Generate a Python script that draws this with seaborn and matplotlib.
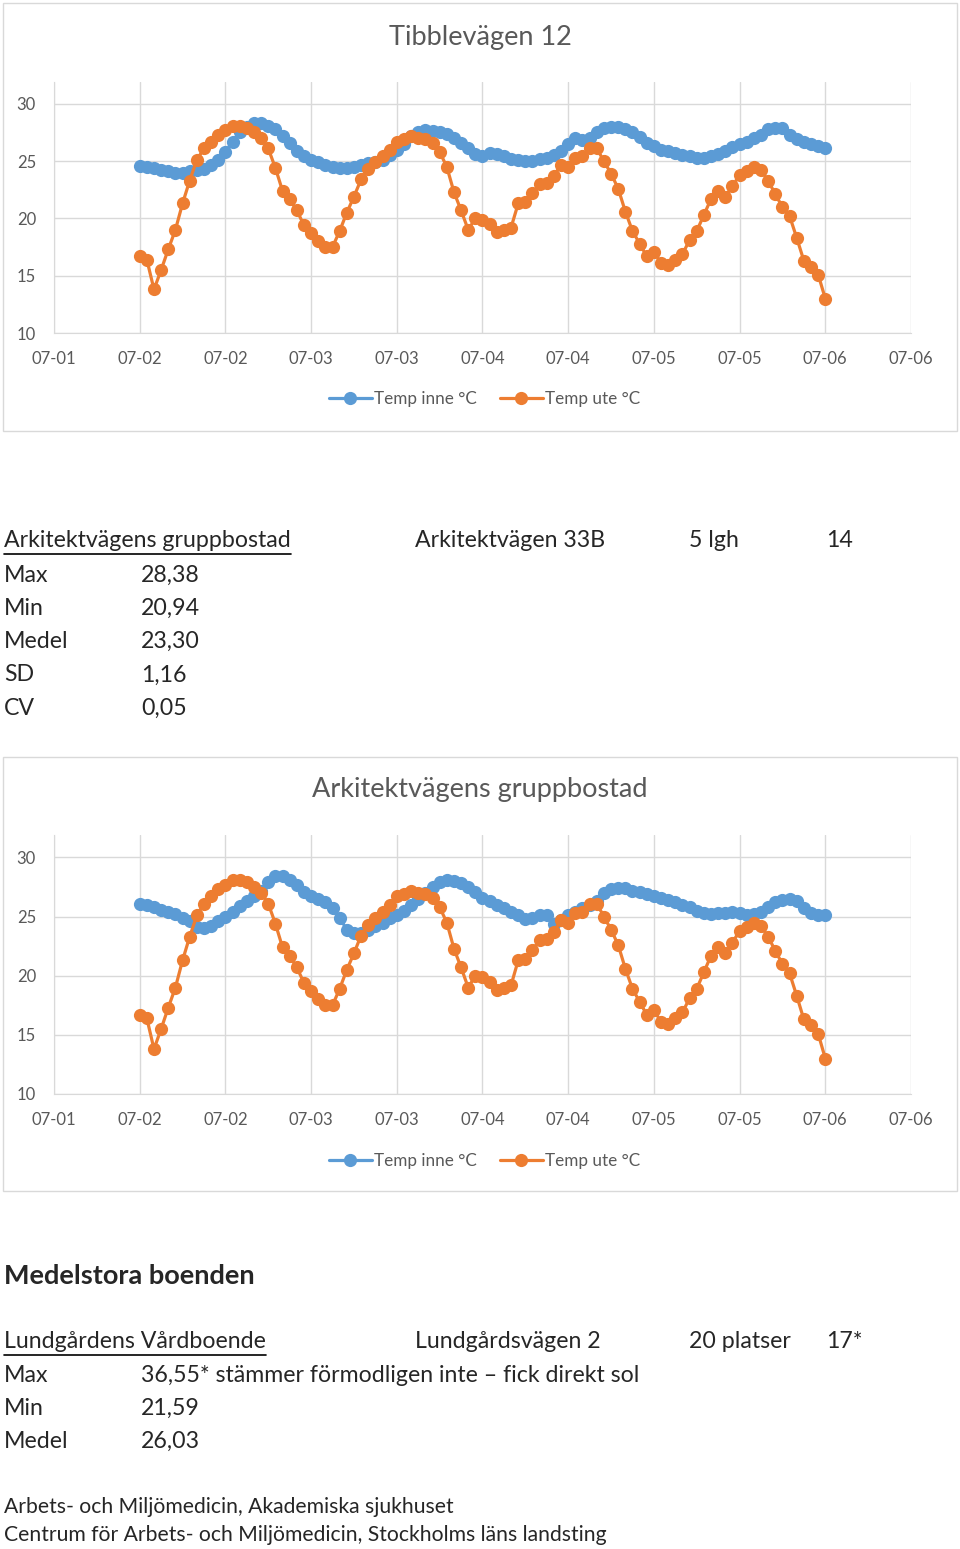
import numpy as np
import pandas as pd
import matplotlib.pyplot as plt
import matplotlib.dates as mdates
from matplotlib.lines import Line2D
from matplotlib.patches import Rectangle
import seaborn as sbn

# hourly readings, 07-02 00:00 .. 07-06 00:00
START = '2018-07-02 00:00'
TEMP_UTE = [16.7, 16.4, 13.8, 15.5, 17.3, 19.0, 21.3, 23.3, 25.1, 26.1, 26.7, 27.3,
            27.7, 28.1, 28.1, 27.9, 27.5, 27.0, 26.1, 24.4, 22.4, 21.7, 20.7, 19.4,
            18.7, 18.0, 17.5, 17.5, 18.9, 20.5, 21.9, 23.4, 24.3, 24.9, 25.4, 26.0,
            26.7, 26.9, 27.2, 27.0, 26.9, 26.6, 25.8, 24.5, 22.3, 20.7, 19.0, 20.0,
            19.9, 19.5, 18.8, 19.0, 19.2, 21.3, 21.4, 22.2, 23.0, 23.1, 23.7, 24.7,
            24.5, 25.3, 25.4, 26.1, 26.1, 25.0, 23.9, 22.6, 20.6, 18.9, 17.8, 16.7,
            17.1, 16.1, 15.9, 16.4, 16.9, 18.1, 18.9, 20.3, 21.7, 22.4, 21.9, 22.8,
            23.8, 24.1, 24.5, 24.2, 23.3, 22.1, 21.0, 20.2, 18.3, 16.3, 15.8, 15.1,
            13.0]
TEMP_INNE_TIBBLE = [24.6, 24.5, 24.4, 24.2, 24.1, 24.0, 24.0, 24.1, 24.2, 24.3, 24.7, 25.1,
                    25.8, 26.7, 27.5, 28.0, 28.3, 28.3, 28.1, 27.8, 27.2, 26.6, 25.9, 25.4,
                    25.1, 24.9, 24.7, 24.5, 24.4, 24.4, 24.5, 24.7, 24.8, 24.9, 25.1, 25.5,
                    26.0, 26.45, 27.2, 27.5, 27.7, 27.6, 27.5, 27.4, 27.0, 26.6, 26.1, 25.6,
                    25.4, 25.7, 25.6, 25.4, 25.2, 25.1, 25.0, 25.0, 25.2, 25.3, 25.5, 25.9,
                    26.5, 27.0, 26.8, 27.0, 27.5, 27.9, 28.0, 28.0, 27.8, 27.5, 27.1, 26.6,
                    26.3, 26.0, 25.9, 25.7, 25.5, 25.4, 25.3, 25.3, 25.4, 25.6, 25.9, 26.2,
                    26.5, 26.7, 27.0, 27.3, 27.8, 27.9, 27.9, 27.3, 26.9, 26.7, 26.5, 26.3,
                    26.1]
TEMP_INNE_ARKITEKT = [26.1, 25.95, 25.8, 25.6, 25.4, 25.2, 24.9, 24.6, 24.1, 24.0, 24.2, 24.6,
                      25.0, 25.4, 25.9, 26.3, 26.7, 27.2, 27.9, 28.4, 28.4, 28.1, 27.7, 27.1,
                      26.7, 26.5, 26.2, 25.7, 24.9, 23.9, 23.6, 23.6, 23.9, 24.2, 24.5, 24.9,
                      25.1, 25.5, 26.0, 26.5, 27.0, 27.5, 27.9, 28.1, 28.0, 27.8, 27.5, 27.1,
                      26.6, 26.3, 26.0, 25.7, 25.4, 25.1, 24.8, 24.9, 25.1, 25.1, 24.4, 24.7,
                      25.1, 25.4, 25.7, 26.0, 26.3, 27.0, 27.3, 27.4, 27.4, 27.2, 27.1, 26.9,
                      26.7, 26.6, 26.4, 26.2, 26.0, 25.8, 25.5, 25.3, 25.2, 25.3, 25.3, 25.4,
                      25.3, 25.1, 25.2, 25.4, 25.8, 26.2, 26.4, 26.5, 26.3, 25.7, 25.3, 25.1,
                      25.1]
SERIES = ['Temp inne °C', 'Temp ute °C']
Y_TICKS = [10, 15, 20, 25, 30]

ARK_HEAD = ['Arkitektvägens gruppbostad', 'Arkitektvägen 33B', '5 lgh', '14']
ARK_LABELS = ['Max', 'Min', 'Medel', 'SD', 'CV']
ARK_VALUES = ['28,38', '20,94', '23,30', '1,16', '0,05']
LUND_HEAD = ['Lundgårdens Vårdboende', 'Lundgårdsvägen 2', '20 platser', '17*']
LUND_LABELS = ['Max', 'Min', 'Medel']
LUND_VALUES = ['36,55* stämmer förmodligen inte – fick direkt sol', '21,59', '26,03']
SECTION = 'Medelstora boenden'
FOOTER = ['Arbets- och Miljömedicin, Akademiska sjukhuset',
          'Centrum för Arbets- och Miljömedicin, Stockholms läns landsting']

BLUE = '#5B9BD5'
ORANGE = '#ED7D31'
GRID = '#d9d9d9'
GREY = '#595959'
FONT = ['Lato', 'DejaVu Sans']
W, H = 960, 1549
BODY = 16.7

sbn.set_style('white')
plt.rcParams['font.family'] = FONT


def fx(x):
    return x / W


def fy(y):
    return 1 - y / H


def draw_chart(fig, title, inne, box, title_y, ax_top, ax_bottom, legend_y):
    fig.add_artist(Rectangle((fx(box[0]), fy(box[3])), fx(box[2] - box[0]), (box[3] - box[1]) / H,
                             transform=fig.transFigure, fill=False, edgecolor=GRID, lw=1))
    fig.text(0.5, fy(title_y), title, ha='center', va='center', fontsize=19.5, color=GREY)
    ax = fig.add_axes([fx(54), fy(ax_bottom), fx(911 - 54), (ax_bottom - ax_top) / H])
    times = pd.date_range(START, periods=len(inne), freq='h')
    df = pd.DataFrame({'time': np.concatenate([times, times]),
                       'temp': inne + TEMP_UTE,
                       'serie': [SERIES[0]] * len(inne) + [SERIES[1]] * len(TEMP_UTE)})
    sbn.lineplot(data=df, x='time', y='temp', hue='serie', palette=[BLUE, ORANGE], ax=ax,
                 marker='o', markersize=9.5, markeredgewidth=0, linewidth=2.3, legend=False)
    ax.set_xlim(pd.Timestamp('2018-07-01 12:00'), pd.Timestamp('2018-07-06 12:00'))
    ax.set_ylim(10, 31.9)
    ax.set_yticks(Y_TICKS)
    ax.xaxis.set_major_locator(mdates.HourLocator(byhour=[0, 12]))
    ax.xaxis.set_major_formatter(mdates.DateFormatter('%m-%d'))
    ax.grid(True, color=GRID, lw=1)
    ax.set_axisbelow(True)
    for s in ['top', 'right']:
        ax.spines[s].set_visible(False)
    for s in ['left', 'bottom']:
        ax.spines[s].set_color(GRID)
    ax.tick_params(length=0, labelsize=12, labelcolor=GREY, pad=13)
    ax.set_xlabel('')
    ax.set_ylabel('')
    handles = [Line2D([], [], color=c, lw=2.3, marker='o', markersize=9.5, markeredgewidth=0)
               for c in [BLUE, ORANGE]]
    fig.legend(handles, SERIES, loc='center', bbox_to_anchor=(0.505, fy(legend_y)), ncol=2,
               frameon=False, fontsize=12.3, labelcolor=GREY, handlelength=2.5,
               handletextpad=0.15, columnspacing=1.35, numpoints=1)
    return ax


def row(fig, y, items, xs, size=BODY, weight='normal'):
    return [fig.text(fx(x), fy(y), t, ha='left', va='center', fontsize=size, fontweight=weight)
            for t, x in zip(items, xs)]


def underline(fig, txt, y):
    r = fig.canvas.get_renderer()
    bb = txt.get_window_extent(r)
    fig.add_artist(Line2D([bb.x0 / W, bb.x1 / W], [fy(y), fy(y)], transform=fig.transFigure,
                          color='black', lw=1.2))


fig = plt.figure(figsize=(9.6, 15.49), dpi=100)

draw_chart(fig, 'Tibblevägen 12', TEMP_INNE_TIBBLE, (3, 3, 957, 431), 38, 82, 333, 399)
draw_chart(fig, 'Arkitektvägens gruppbostad', TEMP_INNE_ARKITEKT, (3, 757, 957, 1191),
           790, 835, 1094, 1161)

head_x = [4, 415, 689, 826]
t1 = row(fig, 541, ARK_HEAD, head_x)
for i, (lab, val) in enumerate(zip(ARK_LABELS, ARK_VALUES)):
    row(fig, 575 + i * 33.3, [lab, val], [4, 141])

row(fig, 1276, [SECTION], [4], size=19.5, weight='bold')
t2 = row(fig, 1342, LUND_HEAD, head_x)
for i, (lab, val) in enumerate(zip(LUND_LABELS, LUND_VALUES)):
    row(fig, 1375 + i * 33.3, [lab, val], [4, 141])

row(fig, 1507, [FOOTER[0]], [4], size=15.2)
row(fig, 1535, [FOOTER[1]], [4], size=15.2)

fig.canvas.draw()
underline(fig, t1[0], 554)
underline(fig, t2[0], 1355)

fig.savefig('out.png', dpi=100)
